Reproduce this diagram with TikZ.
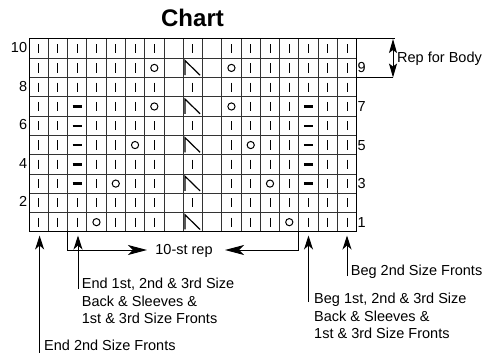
\documentclass[tikz,border=0pt]{standalone}
\usepackage{fontspec}
\setmainfont{Liberation Sans}
\usetikzlibrary{arrows.meta}
\newcommand\KSk[2]{\draw[stitch] (#1,#2-4.6) -- (#1,#2+4.6);}
\newcommand\KSp[2]{\draw[purl] (#1-4.6,#2) -- (#1+4.6,#2);}
\newcommand\KSo[2]{\draw[stitch] (#1,#2) circle[radius=3.6pt];}
\newcommand\KSs[2]{\draw[decst] (#1-7.8,#2+7.3) -- (#1-7.8,#2-7.3) -- (#1+7.2,#2+7.3);}
\newcommand\KSn[2]{}
\begin{document}
\begin{tikzpicture}[x=1pt,y=-1pt,
 gridln/.style={draw=black!80, line width=0.9pt},
 frame/.style={draw=black, line width=1pt},
 stitch/.style={draw=black, line width=1pt},
 purl/.style={draw=black, line width=2.4pt},
 decst/.style={draw=black, line width=1.2pt, line join=miter},
 lbl/.style={font=\fontsize{14.5}{17.7}\selectfont, inner sep=0pt, align=left},
 conn/.style={draw=black, line width=1pt},
 uparr/.style={conn, -{Stealth[length=14pt,width=9pt,inset=4pt]}},
 reparr/.style={conn, -{Stealth[length=19pt,width=10pt,inset=5pt]}},
 bodyarr/.style={conn, {Stealth[length=14pt,width=8pt,inset=3pt]}-{Stealth[length=14pt,width=8pt,inset=3pt]}}
]
\useasboundingbox (0,0) rectangle (487,353);
% title
\node[font=\fontsize{24}{28}\selectfont\bfseries, inner sep=0pt, anchor=base] (title) at (192.5,26.5) {Chart};
% grid
\foreach \i in {1,...,16} \draw[gridln] ({29+\i*19.28},39) -- ({29+\i*19.28},231.8);
\foreach \j in {1,...,9} \draw[gridln] (29,{39+\j*19.28}) -- (356.8,{39+\j*19.28});
\draw[frame] (29,39) rectangle (356.8,231.8);
% stitches
\foreach \row [count=\r] in {
 {k,k,k,k,k,k,k,n,k,n,k,k,k,k,k,k,k},
 {k,k,k,k,k,k,o,n,s,n,o,k,k,k,k,k,k},
 {k,k,k,k,k,k,k,n,k,n,k,k,k,k,k,k,k},
 {k,k,p,k,k,k,o,n,s,n,o,k,k,k,p,k,k},
 {k,k,p,k,k,k,k,n,k,n,k,k,k,k,p,k,k},
 {k,k,p,k,k,o,k,n,s,n,k,o,k,k,p,k,k},
 {k,k,p,k,k,k,k,n,k,n,k,k,k,k,p,k,k},
 {k,k,p,k,o,k,k,n,s,n,k,k,o,k,p,k,k},
 {k,k,k,k,k,k,k,n,k,n,k,k,k,k,k,k,k},
 {k,k,k,o,k,k,k,n,s,n,k,k,k,o,k,k,k}}{
  \foreach \s [count=\c] in \row {
    \pgfmathsetmacro\cx{29+(\c-0.5)*19.28}
    \pgfmathsetmacro\cy{39+(\r-0.5)*19.28}
    \csname KS\s\endcsname{\cx}{\cy}
  }
}
% row numbers
\foreach \n/\r in {10/1,8/3,6/5,4/7,2/9}
  \node[lbl, anchor=base east] (L\n) at (27.3,{39+(\r-0.5)*19.28+4}) {\n};
\foreach \n/\r in {9/2,7/4,5/6,3/8,1/10}
  \node[lbl, anchor=base west] (R\n) at (357.5,{39+(\r-0.5)*19.28+5}) {\n};
% rep for body
\coordinate (gtr) at (356.8,39);
\coordinate (gbr) at (356.8,77.56);
\coordinate (rtop) at (395,39);
\coordinate (rbot) at (393,77.56);
\draw[conn] (gtr) -- (rtop);
\draw[conn] (gbr) -- (rbot);
\coordinate (atop) at (393,39);
\draw[bodyarr] (rbot) -- (atop);
\node[lbl, anchor=base west] (body) at (397,62.2) {Rep for Body};
% 10-st rep
\node[lbl, anchor=base] (tenst) at (184,254.5) {10-st rep};
\coordinate (bl) at (67.56,231.8);
\coordinate (bltip) at (147,250);
\coordinate (br) at (298.8,231.8);
\coordinate (brtip) at (225,250);
\draw[reparr] (bl) |- (bltip);
\draw[reparr] (br) |- (brtip);
% up arrows
\coordinate (Afoot) at (39.6,353);  \coordinate (Atip) at (39.6,235.5);
\coordinate (Bfoot) at (78,288.5);  \coordinate (Btip) at (78,235.5);
\coordinate (Cfoot) at (308.5,302); \coordinate (Ctip) at (308.5,235.5);
\coordinate (Dfoot) at (347,276);   \coordinate (Dtip) at (347,235.5);
\draw[uparr] (Afoot) -- (Atip);
\draw[uparr] (Bfoot) -- (Btip);
\draw[uparr] (Cfoot) -- (Ctip);
\draw[uparr] (Dfoot) -- (Dtip);
% labels
\node[lbl, anchor=base west] (endtwo) at (44,350.2) {End 2nd Size Fronts};
\node[lbl, anchor=north west] (endone) at (81.7,277.6) {End 1st, 2nd \& 3rd Size\\Back \& Sleeves \&\\1st \& 3rd Size Fronts};
\node[lbl, anchor=north west] (begone) at (314,292.6) {Beg 1st, 2nd \& 3rd Size\\Back \& Sleeves \&\\1st \& 3rd Size Fronts};
\node[lbl, anchor=base west] (begtwo) at (350.7,275.2) {Beg 2nd Size Fronts};
\end{tikzpicture}
\end{document}
